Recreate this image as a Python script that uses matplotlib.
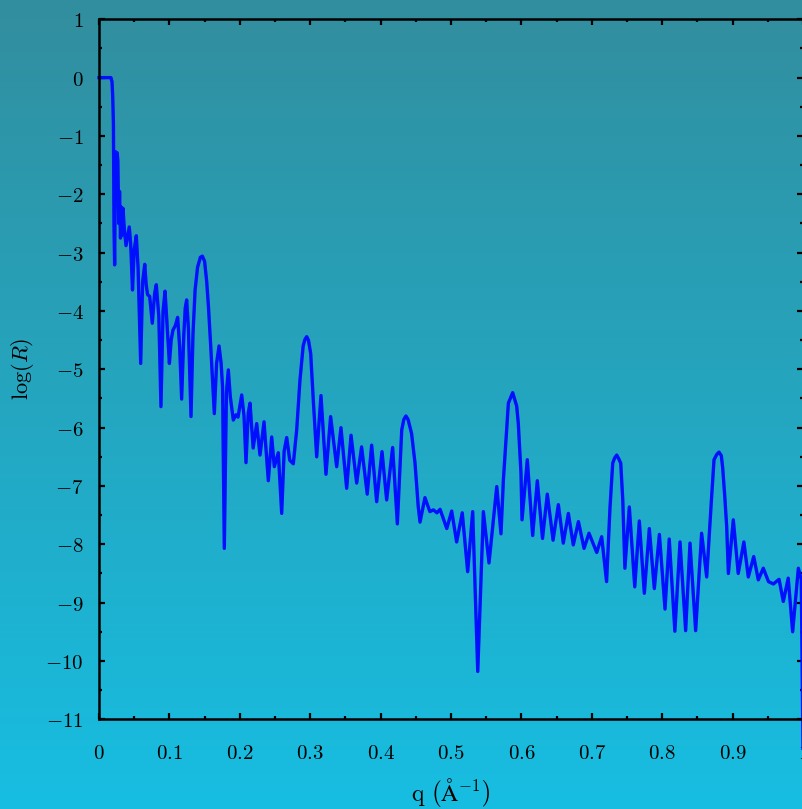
import numpy as np
import matplotlib
matplotlib.use("Agg")
import matplotlib.pyplot as plt
from matplotlib.ticker import MultipleLocator

plt.rcParams["mathtext.fontset"] = "cm"

# reflectivity curve (q in 1/A, log10 R)
q_values = [
    0.000, 0.017, 0.0185, 0.0195, 0.0205, 0.0213, 0.0222, 0.0235, 0.0248, 0.0258,
    0.0268, 0.0280, 0.0292, 0.0305, 0.0318, 0.0330, 0.0341, 0.0360, 0.0384, 0.0430,
    0.0450, 0.0476, 0.0500, 0.0530, 0.0555, 0.0592, 0.0620, 0.0650, 0.0670, 0.0690,
    0.0720, 0.0757, 0.0790, 0.0814, 0.0850, 0.0880, 0.0910, 0.0938, 0.0965, 0.1000,
    0.1025, 0.1050, 0.1085, 0.1117, 0.1145, 0.1174, 0.1205, 0.1225, 0.1245, 0.1270,
    0.1307, 0.1335, 0.1365, 0.1400, 0.1440, 0.1468, 0.1500, 0.1530, 0.1555, 0.1590,
    0.1638, 0.1670, 0.1705, 0.1735, 0.1755, 0.1780, 0.1810, 0.1837, 0.1865, 0.1908,
    0.1945, 0.1975, 0.2027, 0.2060, 0.2088, 0.2120, 0.2145, 0.2190, 0.2240, 0.2287,
    0.2344, 0.2405, 0.2453, 0.2490, 0.2547, 0.2595, 0.2630, 0.2666, 0.2710, 0.2760,
    0.2808, 0.2855, 0.2900, 0.2925, 0.2950, 0.2975, 0.3007, 0.3044, 0.3092, 0.3153,
    0.3224, 0.3290, 0.3376, 0.3437, 0.3518, 0.3580, 0.3660, 0.3730, 0.3810, 0.3873,
    0.3944, 0.4020, 0.4086, 0.4171, 0.4238, 0.4300, 0.4330, 0.4360, 0.4390, 0.4440,
    0.4489, 0.4535, 0.4560, 0.4630, 0.4700, 0.4750, 0.4800, 0.4845, 0.4940, 0.5010,
    0.5080, 0.5160, 0.5237, 0.5308, 0.5380, 0.5460, 0.5540, 0.5650, 0.5710, 0.5744,
    0.5791, 0.5815, 0.5876, 0.5933, 0.5956, 0.5994, 0.6009, 0.6084, 0.6160, 0.6226,
    0.6300, 0.6368, 0.6450, 0.6525, 0.6595, 0.6667, 0.6737, 0.6810, 0.6890, 0.6960,
    0.7070, 0.7140, 0.7210, 0.7259, 0.7297, 0.7325, 0.7354, 0.7385, 0.7411, 0.7440,
    0.7470, 0.7533, 0.7610, 0.7675, 0.7746, 0.7817, 0.7888, 0.7960, 0.8040, 0.8100,
    0.8180, 0.8253, 0.8333, 0.8395, 0.8475, 0.8560, 0.8632, 0.8693, 0.8736, 0.8775,
    0.8807, 0.8840, 0.8860, 0.8890, 0.8916, 0.8940, 0.9010, 0.9080, 0.9160, 0.9223,
    0.9300, 0.9365, 0.9436, 0.9510, 0.9580, 0.9660, 0.9720, 0.9790, 0.9853, 0.9934,
    0.9975, 1.0000,
]
log_r_values = [
    0.00, 0.00, -0.07, -0.33, -0.80, -2.56, -3.21, -1.27, -1.93, -1.29,
    -1.42, -2.50, -1.95, -2.75, -2.22, -2.70, -2.24, -2.60, -2.88, -2.56,
    -2.85, -3.64, -2.95, -2.71, -3.26, -4.90, -3.50, -3.20, -3.55, -3.72,
    -3.75, -4.21, -3.70, -3.55, -4.10, -5.64, -4.00, -3.66, -4.20, -4.90,
    -4.50, -4.33, -4.25, -4.11, -4.60, -5.51, -4.40, -3.95, -3.81, -4.30,
    -5.81, -4.40, -3.64, -3.25, -3.08, -3.06, -3.15, -3.50, -3.93, -4.67,
    -5.76, -4.90, -4.60, -4.90, -5.30, -8.07, -5.40, -5.01, -5.47, -5.87,
    -5.78, -5.82, -5.44, -5.80, -6.60, -5.75, -5.58, -6.35, -5.93, -6.47,
    -5.90, -6.91, -6.16, -6.67, -6.43, -7.47, -6.40, -6.17, -6.56, -6.62,
    -6.04, -5.18, -4.60, -4.49, -4.44, -4.50, -4.73, -5.53, -6.50, -5.45,
    -6.80, -5.81, -6.67, -6.00, -7.04, -6.13, -6.95, -6.33, -7.14, -6.30,
    -7.27, -6.41, -7.24, -6.34, -7.65, -6.04, -5.86, -5.80, -5.86, -6.10,
    -6.61, -7.36, -7.62, -7.20, -7.44, -7.41, -7.46, -7.40, -7.73, -7.43,
    -7.96, -7.46, -8.47, -7.44, -10.18, -7.44, -8.32, -7.01, -7.82, -6.90,
    -6.04, -5.58, -5.40, -5.63, -5.93, -6.78, -7.58, -6.55, -7.85, -6.91,
    -7.90, -7.14, -7.93, -7.32, -7.98, -7.47, -8.01, -7.61, -8.07, -7.81,
    -8.14, -7.87, -8.64, -7.36, -6.61, -6.52, -6.47, -6.54, -6.61, -7.24,
    -8.41, -7.36, -8.73, -7.60, -8.84, -7.73, -8.76, -7.83, -9.11, -7.91,
    -9.49, -7.96, -9.48, -7.98, -9.48, -7.81, -8.56, -7.36, -6.55, -6.46,
    -6.42, -6.48, -6.70, -7.20, -7.70, -8.50, -7.58, -8.50, -7.96, -8.56,
    -8.21, -8.61, -8.41, -8.64, -8.68, -8.60, -8.98, -8.58, -9.50, -8.41,
    -8.60, -11.50,
]

x_ticks = [0, 0.1, 0.2, 0.3, 0.4, 0.5, 0.6, 0.7, 0.8, 0.9, 1]
x_tick_labels = ["0", "0.1", "0.2", "0.3", "0.4", "0.5", "0.6", "0.7", "0.8", "0.9", "1"]
y_ticks = [-11, -10, -9, -8, -7, -6, -5, -4, -3, -2, -1, 0, 1]

fig = plt.figure(figsize=(8.03, 8.09), dpi=100)

# vertical gradient behind everything
bg = fig.add_axes([0, 0, 1, 1])
top_col = np.array([0.196, 0.557, 0.620])
bot_col = np.array([0.090, 0.745, 0.886])
t = np.linspace(0, 1, 256)[:, None]
grad = top_col[None, :] * (1 - t) + bot_col[None, :] * t
bg.imshow(grad[:, None, :], aspect="auto", extent=[0, 1, 0, 1])
bg.set_axis_off()

ax = fig.add_axes([99 / 803, 1 - 719.3 / 809, 704 / 803, 700 / 809])
ax.set_facecolor("none")
ax.plot(q_values, log_r_values, color="#0010ff", lw=2.4, clip_on=False,
        solid_joinstyle="round")

ax.set_xlim(0, 1)
ax.set_ylim(-11, 1)
ax.set_xticks(x_ticks)
ax.set_xticklabels(["$%s$" % s for s in x_tick_labels])
ax.set_yticks(y_ticks)
ax.set_yticklabels(["$%d$" % v for v in y_ticks])
ax.xaxis.set_minor_locator(MultipleLocator(0.05))
ax.yaxis.set_minor_locator(MultipleLocator(0.5))

ax.tick_params(which="both", direction="in", top=True, right=True, width=1.6, colors="black")
ax.tick_params(which="major", length=4.5)
ax.tick_params(which="minor", length=2.5)
ax.tick_params(axis="x", which="major", pad=17, labelsize=15)
ax.tick_params(axis="y", which="major", pad=11, labelsize=15)

for side in ["left", "bottom", "top"]:
    ax.spines[side].set_linewidth(1.8)
ax.spines["right"].set_visible(False)

# empty subscript deepens the box so the \left( \right) pair grows taller
ax.set_xlabel(r"$\mathrm{q}\ \left(\mathrm{\AA}^{-1}_{\ }\right)$", fontsize=17, labelpad=10)
ax.set_ylabel(r"$\log(R)$", fontsize=16, labelpad=7)

fig.savefig("out.png", dpi=100)
